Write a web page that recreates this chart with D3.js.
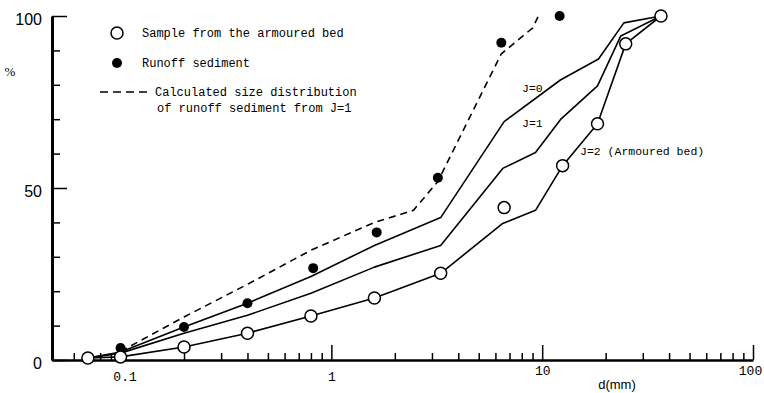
<!DOCTYPE html>
<html>
<head>
<meta charset="utf-8">
<script src="https://cdn.jsdelivr.net/npm/d3@7"></script>
<style>
  body { margin: 0; background: #fff; }
  text { fill: #000; }
</style>
</head>
<body>
<div id="chart"></div>
<script>
// values (d in mm, cumulative %)
var sampleD = [0.07, 0.1, 0.2, 0.4, 0.8, 1.6, 3.3, 6.6, 12.5, 18.3, 24.9, 36.6];
var sampleP = [0.6, 0.9, 3.8, 7.8, 12.8, 18.0, 25.2, 44.3, 56.5, 68.7, 91.9, 100];

var runoffD = [0.1, 0.2, 0.4, 0.82, 1.64, 3.2, 6.4, 12.1];
var runoffP = [3.5, 9.6, 16.5, 26.7, 37.1, 53.0, 92.2, 100];

var calcD = [0.1, 0.2, 0.4, 0.8, 1.6, 2.45, 3.2, 6.4, 9.0, 9.6];
var calcP = [2.5, 12.5, 22.0, 31.9, 40.0, 43.5, 51.9, 89.0, 96.5, 100];

var j0D = [0.07, 0.1, 0.2, 0.4, 0.8, 1.6, 3.3, 6.6, 12.2, 18.5, 24.4, 36.6];
var j0P = [0.6, 2.3, 9.6, 16.5, 24.3, 33.3, 41.4, 69.3, 81.4, 87.5, 98, 100];

var j1D = [0.07, 0.1, 0.2, 0.4, 0.8, 1.6, 3.3, 6.5, 9.3, 12.3, 18.3, 23.6, 36.6];
var j1P = [0.6, 2.0, 7.8, 13.0, 19.4, 27.0, 33.3, 55.7, 60.3, 70.1, 79.7, 94.2, 100];

var j2D = [0.07, 0.1, 0.2, 0.4, 0.8, 1.6, 3.3, 6.5, 9.3, 12.5, 18.3, 24.9, 36.6];
var j2P = [0.6, 0.9, 3.8, 7.8, 12.8, 18.0, 25.2, 39.7, 43.5, 56.5, 68.7, 91.9, 100];

var xMajor = [0.1, 1, 10, 100];
var xMinor = [0.06, 0.07, 0.08, 0.09, 0.2, 0.3, 0.4, 0.5, 0.6, 0.7, 0.8, 0.9,
              2, 3, 4, 5, 6, 7, 8, 9, 20, 30, 40, 50, 60, 70, 80, 90];
var yMajor = [0, 50, 100];
var yMinor = [10, 20, 30, 40, 60, 70, 80, 90];

var width = 764,
    height = 393;

var svg = d3.select("#chart").append("svg")
    .attr("width", width)
    .attr("height", height);

var x = d3.scaleLog().domain([0.0473, 100]).range([52, 753]);
var y = d3.scaleLinear().domain([0, 100]).range([360, 16]);

var zip = function(ds, ps) {
    return ds.map(function(d, i) { return {d: d, p: ps[i]}; });
};

// x axis: minor then major ticks, pointing up into the plot
svg.append("g")
    .attr("transform", "translate(0," + y(0) + ")")
    .call(d3.axisBottom(x).tickValues(xMinor).tickSize(-7).tickSizeOuter(0).tickFormat(""))
    .call(function(g) { g.select(".domain").remove(); })
    .selectAll("line").attr("stroke-width", 1.5);

var xAx = svg.append("g")
    .attr("transform", "translate(0," + y(0) + ")")
    .call(d3.axisBottom(x).tickValues(xMajor).tickSize(-15).tickSizeOuter(0).tickPadding(12)
          .tickFormat(function(d) { return d3.format("~g")(d); }));
xAx.select(".domain").attr("stroke-width", 2.5);
xAx.selectAll("line").attr("stroke-width", 1.5);
xAx.selectAll("text")
    .attr("font-family", "Liberation Mono")
    .attr("font-size", 13)
    .attr("dx", function(d) { return d == 100 ? -3 : (d == 0.1 ? 4 : 0); })
    .attr("dy", function(d) { return d >= 10 ? "0.2em" : "0.71em"; });

// y axis
svg.append("g")
    .attr("transform", "translate(" + x(0.0473) + ",0)")
    .call(d3.axisLeft(y).tickValues(yMinor).tickSize(-8).tickSizeOuter(0).tickFormat(""))
    .call(function(g) { g.select(".domain").remove(); })
    .selectAll("line").attr("stroke-width", 1.5);

var yAx = svg.append("g")
    .attr("transform", "translate(" + x(0.0473) + ",0)")
    .call(d3.axisLeft(y).tickValues(yMajor).tickSize(-15).tickSizeOuter(0).tickPadding(10));
yAx.select(".domain").attr("stroke-width", 3);
yAx.selectAll("line").attr("stroke-width", 1.5);
yAx.selectAll("text")
    .attr("font-family", "Liberation Sans")
    .attr("font-size", 16)
    .attr("dy", "0.55em");

svg.append("text")
    .attr("x", 10).attr("y", 76)
    .attr("font-family", "Liberation Serif")
    .attr("font-size", 13)
    .attr("text-anchor", "middle")
    .text("%");

svg.append("text")
    .attr("x", 617).attr("y", 389)
    .attr("font-family", "Liberation Sans")
    .attr("font-size", 13)
    .attr("text-anchor", "middle")
    .text("d(mm)");

var line = d3.line()
    .x(function(d) { return x(d.d); })
    .y(function(d) { return y(d.p); });

var drawLine = function(data, dashed) {
    svg.append("path")
        .datum(data)
        .attr("d", line)
        .attr("fill", "none")
        .attr("stroke", "#000")
        .attr("stroke-width", 1.6)
        .attr("stroke-linejoin", "round")
        .attr("stroke-dasharray", dashed ? "7,5" : null);
};

drawLine(zip(j0D, j0P), false);
drawLine(zip(j1D, j1P), false);
drawLine(zip(j2D, j2P), false);
drawLine(zip(calcD, calcP), true);

svg.selectAll("circle.runoff")
    .data(zip(runoffD, runoffP))
  .enter()
    .append("circle")
    .attr("class", "runoff")
    .attr("cx", function(d) { return x(d.d); })
    .attr("cy", function(d) { return y(d.p); })
    .attr("r", 5)
    .attr("fill", "#000");

svg.selectAll("circle.sample")
    .data(zip(sampleD, sampleP))
  .enter()
    .append("circle")
    .attr("class", "sample")
    .attr("cx", function(d) { return x(d.d); })
    .attr("cy", function(d) { return y(d.p); })
    .attr("r", 6)
    .attr("fill", "#fff")
    .attr("stroke", "#000")
    .attr("stroke-width", 1.5);

// curve labels
var lab = function(tx, ty, s) {
    svg.append("text")
        .attr("x", tx).attr("y", ty)
        .attr("font-family", "Liberation Mono")
        .attr("font-size", 11.5)
        .text(s);
};
lab(522, 92, "J=0");
lab(522, 127, "J=1");
lab(580, 155, "J=2 (Armoured bed)");

// legend
var leg = svg.append("g");
leg.append("circle").attr("cx", 117).attr("cy", 33).attr("r", 6)
    .attr("fill", "#fff").attr("stroke", "#000").attr("stroke-width", 1.5);
leg.append("circle").attr("cx", 117).attr("cy", 63).attr("r", 5).attr("fill", "#000");
leg.append("line").attr("x1", 100).attr("x2", 149).attr("y1", 92).attr("y2", 92)
    .attr("stroke", "#000").attr("stroke-width", 1.6).attr("stroke-dasharray", "8,5");

var legText = [
    {x: 142, y: 37, s: "Sample from the armoured bed"},
    {x: 142, y: 67, s: "Runoff sediment"},
    {x: 155, y: 96, s: "Calculated size distribution"},
    {x: 157, y: 112, s: "of runoff sediment from J=1"}
];
leg.selectAll("text")
    .data(legText)
  .enter()
    .append("text")
    .attr("x", function(d) { return d.x; })
    .attr("y", function(d) { return d.y; })
    .attr("font-family", "Liberation Mono")
    .attr("font-size", 12)
    .text(function(d) { return d.s; });
</script>
</body>
</html>
